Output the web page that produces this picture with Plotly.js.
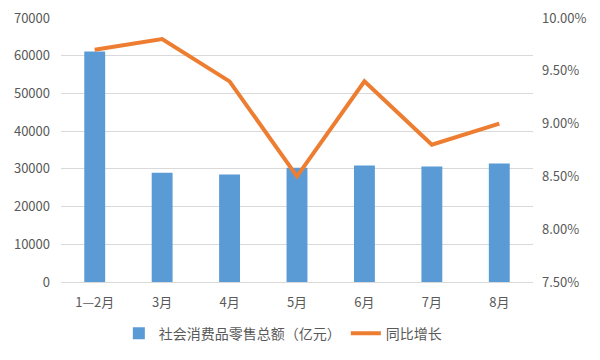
<!DOCTYPE html>
<html><head><meta charset="utf-8">
<script src="https://cdn.plot.ly/plotly-3.0.1.min.js"></script>
<style>body{margin:0}#c{width:600px;height:360px}</style>
</head><body><div id="c"></div>
<script>
const categories = ['1—2月','3月','4月','5月','6月','7月','8月'];
const retailSales = [61100, 29000, 28500, 30300, 30900, 30600, 31400];
const yoyGrowth = [0.097, 0.098, 0.094, 0.085, 0.094, 0.088, 0.090];
const leftTicks = [0,10000,20000,30000,40000,50000,60000,70000];
const rightTicks = [0.075,0.08,0.085,0.09,0.095,0.10];

const fontFam = '"Noto Sans CJK SC", "Noto Sans", sans-serif';
const data = [
  {type:'bar', x:categories, y:retailSales, name:'社会消费品零售总额（亿元）',
   marker:{color:'#5B9BD5'}, width:0.31},
  {type:'scatter', mode:'lines', x:categories, y:yoyGrowth, name:'同比增长', yaxis:'y2',
   line:{color:'#ED7D31', width:4}}
];
const layout = {
  width:600, height:360,
  margin:{l:61, r:67, t:18, b:78, autoexpand:false},
  paper_bgcolor:'#fff', plot_bgcolor:'#fff',
  font:{family:fontFam, size:12, color:'#595959'},
  showlegend:true,
  legend:{orientation:'h', x:0.47, xanchor:'center', y:-0.135, yanchor:'top',
          font:{size:14, color:'#595959'}, itemwidth:30},
  xaxis:{showgrid:false, showline:true, linecolor:'#D9D9D9', linewidth:1,
         ticks:'', tickfont:{size:13}, ticklabelstandoff:8},
  yaxis:{range:[0,70000], tickvals:leftTicks, tickformat:'d', showgrid:true, gridcolor:'#D9D9D9',
         zeroline:false, ticks:'', tickfont:{size:13}, ticklabelstandoff:10},
  yaxis2:{range:[0.075,0.10], tickvals:rightTicks, tickformat:'.2%', overlaying:'y',
          side:'right', showgrid:false, zeroline:false, ticks:'', tickfont:{size:13},
          ticklabelstandoff:8}
};
Plotly.newPlot('c', data, layout, {displayModeBar:false, staticPlot:true});
</script></body></html>
